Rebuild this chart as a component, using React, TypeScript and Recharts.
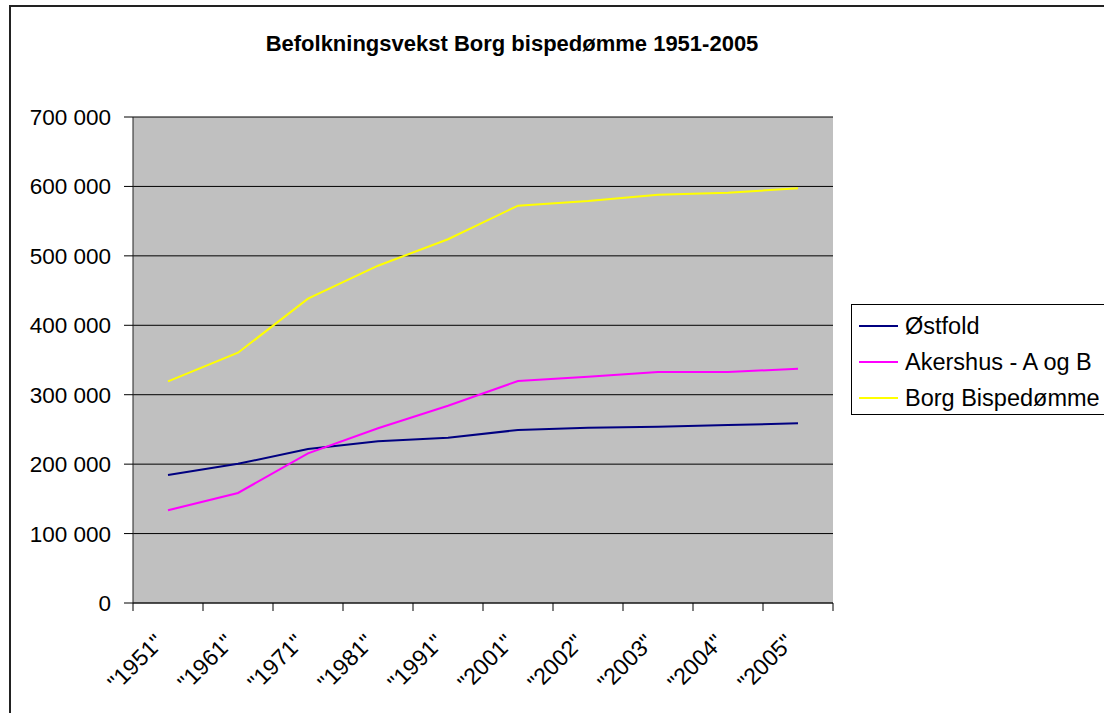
import { LineChart, Line, XAxis, YAxis, CartesianGrid } from 'recharts'

const years = ['1951', '1961', '1971', '1981', '1991', '2001', '2002', '2003', '2004', '2005']
const ostfold = [184500, 200500, 221800, 233000, 238000, 249200, 252300, 254000, 256400, 258800]
const akershus = [133500, 158500, 215600, 251600, 284200, 319700, 326000, 332700, 332700, 337500]
const borg = [319300, 360500, 438300, 485800, 523900, 572300, 579000, 588100, 591000, 597300]
const yTicks = [0, 100000, 200000, 300000, 400000, 500000, 600000, 700000]

const series = [
  { key: 'ostfold', name: 'Østfold', color: '#000080' },
  { key: 'akershus', name: 'Akershus - A og B', color: '#FF00FF' },
  { key: 'borg', name: 'Borg Bispedømme', color: '#FFFF00' },
]

const data = years.map((year, i) => ({
  year,
  ostfold: ostfold[i],
  akershus: akershus[i],
  borg: borg[i],
}))

const W = 1104
const H = 713
const PLOT_LEFT = 133
const PLOT_RIGHT = 833
const FONT = '"Liberation Sans", Arial, sans-serif'

const fmt = (v: number) => String(v).replace(/\B(?=(\d{3})+(?!\d))/g, ' ')

const XTick = (props: any) => {
  const { x, y, payload, index } = props
  const half = (PLOT_RIGHT - PLOT_LEFT) / years.length / 2
  return (
    <g>
      <line x1={x - half} x2={x - half} y1={y} y2={y + 8} stroke="#000" />
      {index === years.length - 1 && (
        <line x1={x + half} x2={x + half} y1={y} y2={y + 8} stroke="#000" />
      )}
      <text
        x={x - 3}
        y={y + 41}
        transform={`rotate(-45 ${x - 3} ${y + 41})`}
        textAnchor="end"
        fontSize={23}
        fontFamily={FONT}
        fill="#000"
      >
        {`"${payload.value}"`}
      </text>
    </g>
  )
}

export default function App() {
  return (
    <div style={{ position: 'absolute', left: 0, top: 0, width: W, height: H, overflow: 'hidden', background: '#fff', fontFamily: FONT }}>
      <div style={{ position: 'absolute', left: 9, top: 5, width: 2000, height: 2000, border: '2px solid #222' }} />
      <div style={{ position: 'absolute', left: 0, width: 1024, top: 31, textAlign: 'center', fontSize: 22, fontWeight: 'bold', color: '#000' }}>
        Befolkningsvekst Borg bispedømme 1951-2005
      </div>
      <div style={{ position: 'absolute', left: 0, top: 0 }}>
        <LineChart width={W} height={H} data={data} margin={{ top: 117, right: W - PLOT_RIGHT, bottom: 0, left: 0 }}>
          <CartesianGrid horizontal vertical={false} stroke="#000" fill="#C0C0C0" />
          <XAxis
            dataKey="year"
            scale="band"
            height={110}
            tickSize={0}
            tickMargin={0}
            tickLine={false}
            axisLine={{ stroke: '#222' }}
            interval={0}
            tick={<XTick />}
          />
          <YAxis
            width={PLOT_LEFT}
            domain={[0, 700000]}
            ticks={yTicks}
            tickFormatter={fmt}
            tickSize={9}
            tickMargin={13}
            axisLine={{ stroke: '#222' }}
            tickLine={{ stroke: '#000' }}
            tick={{ fill: '#000', fontSize: 22.5, fontFamily: FONT }}
          />
          <YAxis
            yAxisId="r"
            orientation="right"
            width={0}
            domain={[0, 700000]}
            tick={false}
            tickLine={false}
            axisLine={{ stroke: '#808080' }}
          />
          {series.map((s) => (
            <Line
              key={s.key}
              type="linear"
              dataKey={s.key}
              name={s.name}
              stroke={s.color}
              strokeWidth={2}
              dot={false}
              isAnimationActive={false}
            />
          ))}
        </LineChart>
      </div>
      <div style={{ position: 'absolute', left: 851, top: 304, width: 262, height: 111, border: '1px solid #000', background: '#fff', boxSizing: 'border-box' }}>
        {series.map((s, i) => (
          <div key={s.key} style={{ position: 'absolute', left: 0, top: 4 + i * 36, height: 34, display: 'flex', alignItems: 'center', whiteSpace: 'nowrap' }}>
            <div style={{ marginLeft: 7, width: 39, height: 2, background: s.color }} />
            <span style={{ marginLeft: 7, fontSize: 23.5, color: '#000' }}>{s.name}</span>
          </div>
        ))}
      </div>
    </div>
  )
}
